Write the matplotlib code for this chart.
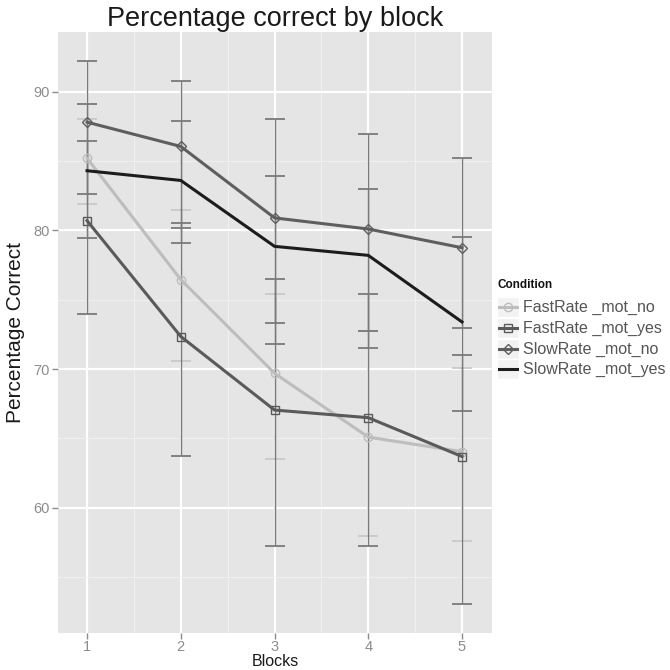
import matplotlib
matplotlib.use("Agg")
import matplotlib.pyplot as plt
from matplotlib.lines import Line2D
from matplotlib.patches import Rectangle
import numpy as np

plt.rcParams["font.family"] = ["Liberation Sans", "DejaVu Sans"]

# mean percentage correct per block, with the ends of each error bar
blocks = [1, 2, 3, 4, 5]
fast_no = [85.2, 76.45, 69.7, 65.1, 64.05]
fast_no_lo = [81.9, 70.55, 63.5, 57.95, 57.6]
fast_no_hi = [88.0, 81.45, 75.4, 72.75, 70.1]
fast_yes = [80.7, 72.35, 67.05, 66.5, 63.7]
fast_yes_lo = [74.0, 63.75, 57.25, 57.25, 53.05]
fast_yes_hi = [86.45, 80.55, 76.5, 75.4, 71.05]
slow_no = [87.8, 86.05, 80.9, 80.1, 78.75]
slow_no_lo = [82.65, 80.2, 73.35, 72.75, 73.0]
slow_no_hi = [92.2, 90.8, 88.05, 86.95, 85.25]
slow_yes = [84.3, 83.6, 78.85, 78.2, 73.4]
slow_yes_lo = [79.45, 79.1, 71.8, 71.5, 66.95]
slow_yes_hi = [89.1, 87.85, 83.95, 83.0, 79.5]

conditions = ["FastRate _mot_no", "FastRate _mot_yes", "SlowRate _mot_no", "SlowRate _mot_yes"]
means = [fast_no, fast_yes, slow_no, slow_yes]
lows = [fast_no_lo, fast_yes_lo, slow_no_lo, slow_yes_lo]
highs = [fast_no_hi, fast_yes_hi, slow_no_hi, slow_yes_hi]

line_colors = ["#bdbdbd", "#5a5a5a", "#5e5e5e", "#1c1c1c"]
bar_colors = ["#c9c9c9", "#7a7a7a", "#7a7a7a", "#7a7a7a"]
markers = ["o", "s", "D", None]
marker_sizes = [6, 6, 5, 0]

fig = plt.figure(figsize=(6.7, 6.7), dpi=100)
ax = fig.add_axes([58 / 670, 37 / 670, 434 / 670, 601 / 670])
ax.set_facecolor("#e5e5e5")
for s in ax.spines.values():
    s.set_visible(False)

# grid like ggplot's grey theme
ax.set_xticks(blocks)
ax.set_xticks([1.5, 2.5, 3.5, 4.5], minor=True)
ax.set_yticks([60, 70, 80, 90])
ax.set_yticks([55, 65, 75, 85], minor=True)
ax.grid(which="major", color="white", linewidth=1.6)
ax.grid(which="minor", color="#f0f0f0", linewidth=0.8)
ax.set_axisbelow(True)

for i in range(len(conditions)):
    m = np.array(means[i])
    err = [m - np.array(lows[i]), np.array(highs[i]) - m]
    ax.errorbar(blocks, m, yerr=err, fmt="none", ecolor=bar_colors[i],
                elinewidth=1.0, capsize=7, capthick=1.3, zorder=2 + i * 0.1)

for i in range(len(conditions)):
    ax.plot(blocks, means[i], color=line_colors[i], linewidth=2.2, zorder=4 + i * 0.1,
            marker=markers[i], markersize=marker_sizes[i],
            markerfacecolor="none", markeredgecolor=line_colors[i], markeredgewidth=1.0)

ax.set_xlim(0.69, 5.32)
ax.set_ylim(50.98, 94.3)
ax.tick_params(which="major", length=4, width=1, color="#8c8c8c",
               labelcolor="#8c8c8c", labelsize=10.5, pad=2)
ax.tick_params(axis="x", which="major", pad=1)
ax.tick_params(which="minor", length=0)

ax.set_title("Percentage correct by block", fontsize=19.5, pad=3, color="#1a1a1a")
ax.set_xlabel("Blocks", fontsize=11.5, color="#1a1a1a", va="center")
ax.xaxis.set_label_coords(0.5, -(662 - 633) / 601)
ax.set_ylabel("Percentage Correct", fontsize=15, labelpad=6, color="#1a1a1a")

# legend to the right of the panel, ggplot style keys
fig.text(497 / 670, 1 - 285 / 670, "Condition", fontsize=8.5, fontweight="bold",
         va="center", ha="left", color="#111111")
row_y = [307, 328, 349, 369]
for i, name in enumerate(conditions):
    yc = 1 - row_y[i] / 670
    fig.patches.append(Rectangle((497 / 670, yc - 10 / 670), 22 / 670, 20 / 670,
                                 transform=fig.transFigure, facecolor="#f2f2f2",
                                 edgecolor="white", linewidth=1))
    fig.lines.append(Line2D([499 / 670, 517 / 670], [yc, yc], transform=fig.transFigure,
                            color=line_colors[i], linewidth=2.2))
    if markers[i]:
        fig.lines.append(Line2D([508 / 670], [yc], transform=fig.transFigure,
                                marker=markers[i], markersize=marker_sizes[i],
                                markerfacecolor="none", markeredgecolor=line_colors[i],
                                markeredgewidth=1.0, linestyle="none"))
    fig.text(523 / 670, yc, name, fontsize=11.5, va="center", ha="left", color="#555555")

fig.savefig("out.png", dpi=100)
